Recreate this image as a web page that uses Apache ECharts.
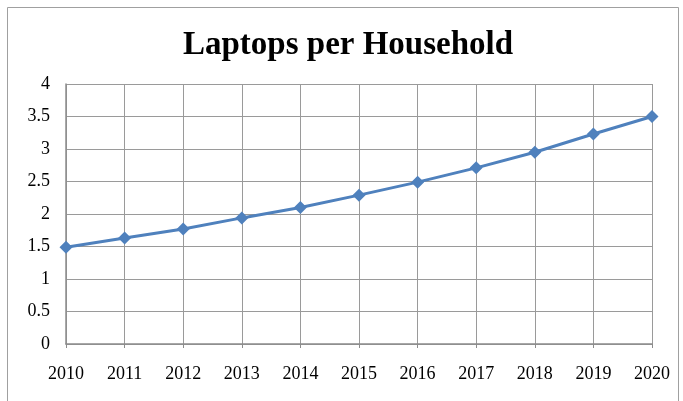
<!DOCTYPE html>
<html>
<head>
<meta charset="utf-8">
<script src="https://cdn.jsdelivr.net/npm/echarts@6/dist/echarts.min.js"></script>
<style>
  html, body { margin: 0; padding: 0; background: #fff; }
  #chart { width: 683px; height: 401px; }
</style>
</head>
<body>
<div id="chart"></div>
<script>
// Years along the horizontal axis
const years = ['2010', '2011', '2012', '2013', '2014', '2015', '2016', '2017', '2018', '2019', '2020'];
// Average number of laptops per household
const laptops = [1.49, 1.63, 1.77, 1.94, 2.10, 2.29, 2.49, 2.71, 2.95, 3.23, 3.5];
// Value axis range
const yMin = 0;
const yMax = 4;
const yStep = 0.5;

const serif = '"Liberation Serif", "Times New Roman", serif';
const gridColor = '#9a9a9a';

const chart = echarts.init(document.getElementById('chart'), null, { renderer: 'canvas' });
chart.setOption({
  animation: false,
  backgroundColor: '#fff',
  graphic: [{
    type: 'rect',
    left: 5, top: 5,
    shape: { width: 671, height: 420 },
    style: { fill: 'none', stroke: '#a0a0a0', lineWidth: 1 },
    silent: true, z: -1
  }],
  title: {
    text: 'Laptops per Household',
    left: 178,
    top: 24,
    textStyle: { fontFamily: serif, fontWeight: 'bold', fontSize: 33, color: '#000' }
  },
  grid: { left: 66, right: 31, top: 84, bottom: 57, containLabel: false },
  xAxis: {
    type: 'category',
    data: years,
    boundaryGap: false,
    axisLine: { lineStyle: { color: '#8c8c8c', width: 1.5 } },
    axisTick: { show: true, alignWithLabel: true, length: 4, lineStyle: { color: '#8c8c8c' } },
    axisLabel: { fontFamily: serif, fontSize: 18, color: '#000', margin: 21 },
    splitLine: { show: true, lineStyle: { color: gridColor, width: 1 } }
  },
  yAxis: {
    type: 'value',
    min: yMin, max: yMax, interval: yStep,
    axisLine: { show: true, lineStyle: { color: '#8c8c8c', width: 1.5 } },
    axisTick: { show: false },
    axisLabel: { fontFamily: serif, fontSize: 18, color: '#000', margin: 16 },
    splitLine: { show: true, lineStyle: { color: gridColor, width: 1 } }
  },
  series: [{
    type: 'line',
    data: laptops,
    symbol: 'diamond',
    symbolSize: 13,
    lineStyle: { color: '#4F81BD', width: 3 },
    itemStyle: { color: '#4F81BD' }
  }]
});
</script>
</body>
</html>
